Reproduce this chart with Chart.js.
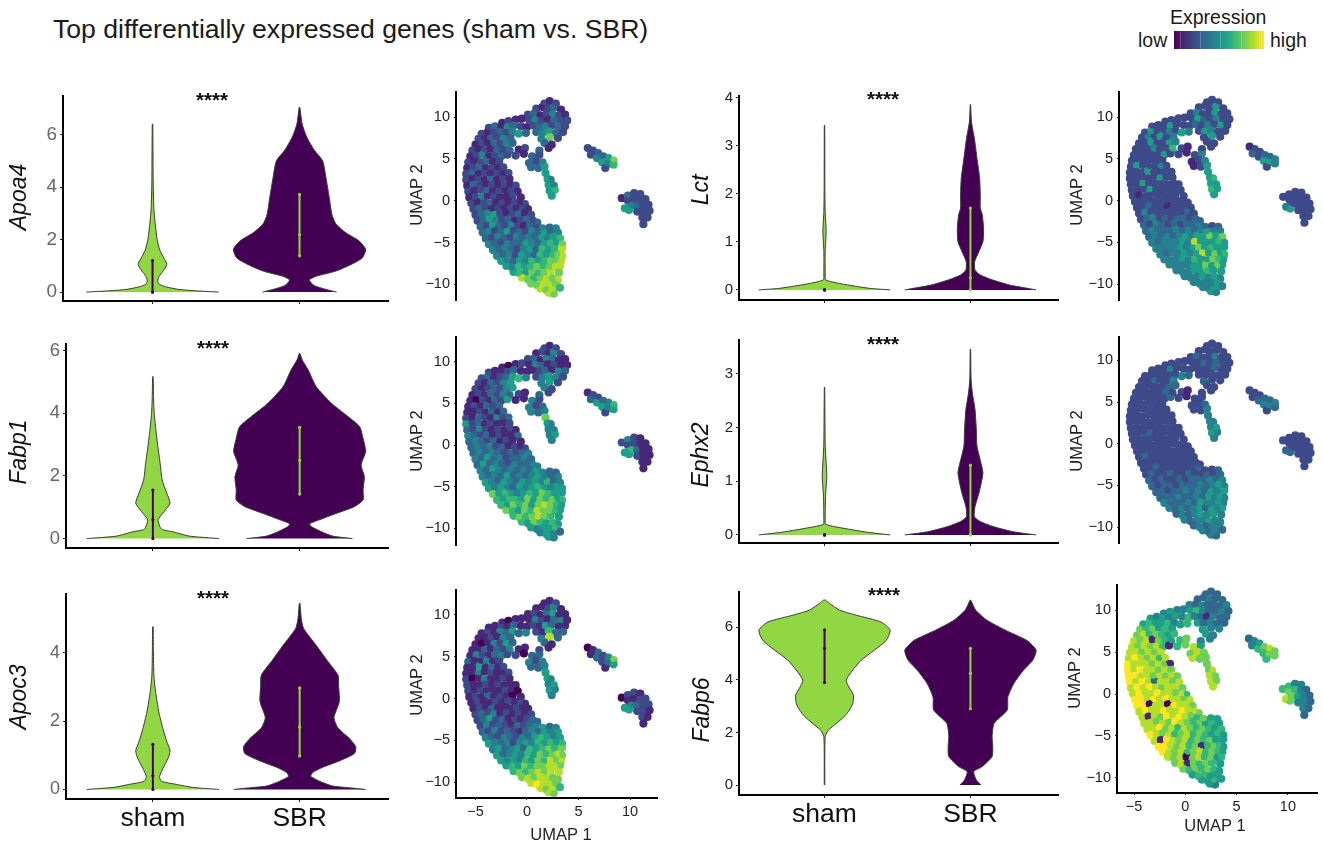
<!DOCTYPE html>
<html>
<head>
<meta charset="utf-8">
<title>Top differentially expressed genes</title>
<script src="https://cdn.jsdelivr.net/npm/chart.js@4"></script>
<style>
  html, body { margin: 0; padding: 0; background: #fff; }
  #page { position: relative; width: 1323px; height: 845px; overflow: hidden; font-family: "Liberation Sans", Arial, sans-serif; color: #1a1a1a; }
  #page canvas { position: absolute; left: 0; top: 0; }
  .txt { position: absolute; white-space: nowrap; line-height: 1; }
  #bar { position: absolute; left: 1174px; top: 31px; width: 90px; height: 18px;
    background: linear-gradient(to right, #440154, #482878, #3e4a89, #31688e, #26828e, #1f9e89, #35b779, #6ece58, #b5de2b, #fde725); }
  #bar i { position: absolute; top: 0; width: 1px; height: 18px; background: rgba(255,255,255,0.22); }
</style>
</head>
<body>
<div id="page">
  <div class="txt" style="left:53px;top:16px;font-size:26.6px">Top differentially expressed genes (sham vs. SBR)</div>
  <div class="txt" style="left:1170px;top:8px;font-size:19.5px">Expression</div>
  <div class="txt" style="left:1138px;top:31px;font-size:19.5px">low</div>
  <div class="txt" style="left:1270px;top:31px;font-size:19.5px">high</div>
  <div id="bar"><i style="left:6px"></i><i style="left:26px"></i><i style="left:46px"></i><i style="left:67px"></i><i style="left:87px"></i></div>
</div>
<script>
// ---- violin data: expression level, relative width at that level ----
const groupLabels = ['sham', 'SBR'];

const apoa4ShamLevel = [0, 0.04, 0.1, 0.2, 0.3, 0.42, 0.6, 0.8, 1.0, 1.1, 1.3, 1.6, 2.0, 2.5, 3.2, 4.2, 6.4];
const apoa4ShamWidth = [1, 0.7, 0.4, 0.2, 0.1, 0.08, 0.1, 0.16, 0.21, 0.215, 0.17, 0.11, 0.07, 0.045, 0.02, 0.01, 0.004];
const apoa4SbrLevel = [0, 0.1, 0.25, 0.46, 0.6, 0.8, 1.05, 1.3, 1.63, 1.95, 2.26, 2.6, 2.96, 3.6, 4.36, 5.0, 5.4, 5.9, 6.4, 7.04];
const apoa4SbrWidth = [0.56, 0.4, 0.22, 0.15, 0.25, 0.55, 0.78, 0.95, 1, 0.9, 0.7, 0.55, 0.49, 0.45, 0.4, 0.35, 0.225, 0.11, 0.04, 0.005];

const fabp1ShamLevel = [0, 0.08, 0.22, 0.3, 0.6, 0.86, 1.13, 1.45, 1.87, 2.4, 2.94, 3.47, 4.0, 4.5, 5.17];
const fabp1ShamWidth = [1, 0.55, 0.3, 0.13, 0.08, 0.17, 0.26, 0.21, 0.14, 0.11, 0.075, 0.045, 0.02, 0.01, 0.004];
const fabp1SbrLevel = [0, 0.08, 0.2, 0.38, 0.47, 0.6, 0.8, 1.02, 1.23, 1.55, 1.98, 2.35, 2.78, 3.2, 3.57, 3.9, 4.32, 4.85, 5.38, 5.7, 5.91];
const fabp1SbrWidth = [0.8, 0.5, 0.35, 0.18, 0.15, 0.3, 0.55, 0.83, 0.96, 0.96, 0.98, 0.93, 1, 0.96, 0.91, 0.73, 0.48, 0.25, 0.13, 0.04, 0.005];

const apoc3ShamLevel = [0, 0.06, 0.15, 0.24, 0.37, 0.61, 0.91, 1.13, 1.4, 1.79, 2.27, 2.86, 3.35, 4.03, 4.76];
const apoc3ShamWidth = [1, 0.6, 0.35, 0.13, 0.1, 0.15, 0.23, 0.26, 0.21, 0.15, 0.09, 0.04, 0.015, 0.008, 0.004];
const apoc3SbrLevel = [0, 0.05, 0.1, 0.2, 0.38, 0.5, 0.65, 0.85, 1.05, 1.25, 1.5, 1.8, 2.1, 2.57, 3.05, 3.35, 3.74, 4.22, 4.71, 5.0, 5.45];
const apoc3SbrWidth = [1, 0.75, 0.5, 0.35, 0.17, 0.2, 0.35, 0.62, 0.83, 0.85, 0.75, 0.58, 0.52, 0.6, 0.59, 0.58, 0.43, 0.25, 0.06, 0.025, 0.005];

const lctShamLevel = [0, 0.03, 0.07, 0.14, 0.21, 0.31, 0.8, 1.2, 1.63, 2.18, 3.42];
const lctShamWidth = [1, 0.7, 0.5, 0.2, 0.015, 0.01, 0.01, 0.025, 0.01, 0.005, 0.003];
const lctSbrLevel = [0, 0.05, 0.1, 0.21, 0.31, 0.41, 0.59, 0.8, 1.0, 1.28, 1.56, 1.7, 1.97, 2.32, 2.73, 3.15, 3.5, 3.85];
const lctSbrWidth = [1, 0.8, 0.6, 0.33, 0.15, 0.07, 0.065, 0.13, 0.19, 0.2, 0.18, 0.15, 0.15, 0.14, 0.1, 0.06, 0.015, 0.003];

const ephx2ShamLevel = [0, 0.05, 0.09, 0.155, 0.2, 0.28, 0.71, 1.09, 1.34, 1.71, 2.75];
const ephx2ShamWidth = [1, 0.65, 0.45, 0.15, 0.015, 0.01, 0.015, 0.035, 0.025, 0.01, 0.003];
const ephx2SbrLevel = [0, 0.06, 0.155, 0.25, 0.34, 0.53, 0.78, 1.15, 1.34, 1.65, 1.96, 2.33, 2.64, 2.89, 3.46];
const ephx2SbrWidth = [1, 0.65, 0.35, 0.15, 0.06, 0.07, 0.13, 0.19, 0.16, 0.1, 0.09, 0.07, 0.03, 0.01, 0.003];

const fabp6ShamLevel = [0, 1.84, 2.09, 2.34, 2.6, 2.85, 3.1, 3.42, 3.73, 3.99, 4.37, 4.75, 5.13, 5.5, 5.89, 6.2, 6.46, 6.65, 6.9, 7.03];
const fabp6ShamWidth = [0.004, 0.01, 0.06, 0.18, 0.3, 0.38, 0.43, 0.44, 0.37, 0.33, 0.43, 0.56, 0.76, 0.94, 1, 0.86, 0.48, 0.23, 0.08, 0.015];
const fabp6SbrLevel = [0, 0.19, 0.51, 0.7, 1.08, 1.46, 1.84, 2.34, 2.85, 3.35, 3.86, 4.37, 4.75, 5.13, 5.5, 5.89, 6.27, 6.65, 7.03];
const fabp6SbrWidth = [0.16, 0.09, 0.05, 0.18, 0.33, 0.34, 0.33, 0.36, 0.56, 0.57, 0.66, 0.81, 0.95, 1, 0.86, 0.53, 0.25, 0.08, 0.005];

// quartile bars: q1, median, q3
const apoa4ShamQ = [0, 0, 1.2];      const apoa4SbrQ = [1.38, 2.18, 3.72];
const fabp1ShamQ = [0, 0.6, 1.55];   const fabp1SbrQ = [1.42, 2.5, 3.55];
const apoc3ShamQ = [0, 0.4, 1.32];   const apoc3SbrQ = [0.98, 1.83, 2.97];
const lctShamQ = [0, 0, 0];          const lctSbrQ = [0, 0.25, 1.7];
const ephx2ShamQ = [0, 0, 0];        const ephx2SbrQ = [0, 0, 1.3];
const fabp6ShamQ = [3.9, 5.2, 5.9];  const fabp6SbrQ = [2.9, 4.25, 5.2];

const apoa4Ticks = [0, 2, 4, 6];
const fabp1Ticks = [0, 2, 4, 6];
const apoc3Ticks = [0, 2, 4];
const lctTicks = [0, 1, 2, 3, 4];
const ephx2Ticks = [0, 1, 2, 3];
const fabp6Ticks = [0, 2, 4, 6];
const umapTicksX = [-5, 0, 5, 10];
const umapTicksY = [-10, -5, 0, 5, 10];

// ---- UMAP cells, one line per band of the embedding ----
const umapX = [
  [1.7,2.2,2.8],
  [0.9,1.5,2.0,2.6,3.3],
  [0.1,0.7,1.3,1.9,2.5,3.1,3.7],
  [-2.4,-1.8,-1.1,-0.5,0.2,0.8,1.4,2.0,2.6,3.3,3.9],
  [-3.7,-3.1,-2.5,-1.9,-1.3,-0.6,0.0,0.6,1.2,1.8,2.4,3.1,3.7],
  [-4.4,-3.8,-3.2,-2.6,-2.0,-1.4,-0.8,-0.1,0.9,1.5,2.1,2.8,3.5],
  [-4.7,-4.1,-3.5,-2.9,-2.3,-1.6,1.4,2.2,3.0],
  [-5.0,-4.4,-3.8,-3.2,-2.6,-2.0,-1.4,1.7,2.4],
  [-5.3,-4.7,-4.1,-3.5,-2.9,-2.3,-1.7,-0.8,-0.2,1.2,2.1],
  [-5.5,-4.9,-4.3,-3.7,-3.1,-2.5,-1.9,-1.1,-0.3,0.5,1.2],
  [-5.7,-5.1,-4.5,-3.9,-3.3,-2.7,0.2,0.9,1.5],
  [-5.8,-5.2,-4.6,-4.0,-3.4,-2.8,-2.3,0.4,1.1,1.7],
  [-5.9,-5.3,-4.7,-4.1,-3.5,-2.9,-2.3,-1.8,1.8],
  [-5.9,-5.3,-4.7,-4.1,-3.5,-2.9,-2.3,-1.7,2.0,2.3],
  [-5.8,-5.2,-4.6,-4.0,-3.4,-2.8,-2.2,-1.6,-1.1,2.1,2.6],
  [-5.7,-5.1,-4.5,-3.9,-3.3,-2.7,-2.1,-1.5,-0.9,2.2,2.7],
  [-5.6,-5.0,-4.4,-3.8,-3.2,-2.6,-2.0,-1.4,-0.6,2.4],
  [-5.4,-4.8,-4.2,-3.6,-3.0,-2.4,-1.8,-1.2,-0.6,-0.2],
  [-5.2,-4.6,-4.0,-3.4,-2.8,-2.2,-1.6,-1.0,-0.4,0.1],
  [-5.0,-4.4,-3.8,-3.2,-2.6,-2.0,-1.4,-0.8,-0.2,0.4],
  [-4.8,-4.2,-3.6,-3.0,-2.4,-1.8,-1.2,-0.6,0.0,0.6,1.0],
  [-4.5,-3.9,-3.3,-2.7,-2.1,-1.5,-0.9,-0.3,0.3,0.9,1.5,2.2,2.8],
  [-4.3,-3.7,-3.1,-2.5,-1.9,-1.3,-0.7,-0.1,0.5,1.1,1.7,2.3,3.0],
  [-4.0,-3.4,-2.8,-2.2,-1.6,-1.0,-0.4,0.2,0.8,1.4,2.0,2.6,3.2],
  [-3.7,-3.1,-2.5,-1.9,-1.3,-0.7,-0.1,0.5,1.1,1.7,2.3,2.9,3.4],
  [-3.3,-2.7,-2.1,-1.5,-0.9,-0.3,0.3,0.9,1.5,2.1,2.7,3.4],
  [-2.9,-2.3,-1.7,-1.1,-0.5,0.1,0.7,1.3,1.9,2.5,3.0,3.4],
  [-2.5,-1.9,-1.3,-0.7,-0.1,0.5,1.1,1.7,2.3,2.9,3.3],
  [-2.0,-1.4,-0.8,-0.2,0.4,1.0,1.6,2.2,2.8,3.2],
  [-1.3,-0.7,-0.1,0.5,1.1,1.7,2.3,3.1],
  [-0.5,0.1,0.7,1.3,1.9,2.5,3.0],
  [0.4,1.0,1.6,2.2,2.8],
  [1.3,1.9,2.5,3.2],
  [2.1,2.6],
  [5.9,6.4,6.9,6.2,6.8,7.4,7.9,8.4,7.3,7.8,8.4,7.6],
  [9.2,9.8,10.4,11.0,9.8,10.4,11.0,11.5,9.5,10.1,10.7,11.2,11.8,9.9,10.7,11.3,11.9,11.2,11.7,11.3]
];
const umapY = [
  [11.6,11.9,11.6],
  [11.0,11.2,11.0,11.1,10.9],
  [10.3,10.4,10.2,10.4,10.3,10.2,10.3],
  [9.3,9.5,9.7,9.8,9.7,9.6,9.5,9.7,9.6,9.5,9.6],
  [8.7,8.9,8.9,8.8,9.0,8.9,8.8,9.0,8.8,8.9,9.0,8.8,8.9],
  [8.0,8.2,8.1,8.2,8.1,8.2,8.0,8.1,8.2,8.1,8.3,8.1,8.2],
  [7.4,7.5,7.4,7.6,7.4,7.5,7.4,7.6,7.5],
  [6.7,6.8,6.9,6.7,6.8,6.7,6.9,6.9,6.7],
  [6.0,6.1,6.0,6.2,6.0,6.1,6.0,6.1,6.3,6.0,6.3],
  [5.3,5.4,5.5,5.3,5.4,5.3,5.5,5.4,5.6,5.3,5.5],
  [4.6,4.7,4.6,4.8,4.6,4.7,4.5,4.7,4.6],
  [3.9,4.0,4.1,3.9,4.0,3.9,4.0,4.0,3.9,4.1],
  [3.2,3.3,3.2,3.4,3.2,3.3,3.2,3.3,3.3],
  [2.5,2.6,2.7,2.5,2.6,2.5,2.7,2.6,2.6,2.5],
  [1.8,1.9,1.8,2.0,1.8,1.9,1.8,1.9,1.8,1.9,1.8],
  [1.1,1.2,1.3,1.1,1.2,1.1,1.3,1.2,1.1,1.2,1.3],
  [0.4,0.5,0.4,0.6,0.5,0.4,0.5,0.6,0.4,0.6],
  [-0.3,-0.2,-0.1,-0.3,-0.2,-0.3,-0.1,-0.2,-0.3,-0.4],
  [-1.0,-0.9,-0.8,-1.0,-0.9,-0.8,-1.0,-0.9,-0.8,-1.0],
  [-1.7,-1.6,-1.5,-1.7,-1.6,-1.5,-1.7,-1.6,-1.5,-1.7],
  [-2.4,-2.3,-2.2,-2.4,-2.3,-2.2,-2.4,-2.3,-2.2,-2.4,-2.6],
  [-3.1,-3.0,-2.9,-3.1,-3.0,-2.9,-3.1,-3.0,-2.9,-3.1,-3.3,-3.2,-3.3],
  [-3.8,-3.7,-3.6,-3.8,-3.7,-3.6,-3.8,-3.7,-3.6,-3.8,-3.9,-3.7,-3.8],
  [-4.5,-4.4,-4.3,-4.5,-4.4,-4.3,-4.5,-4.4,-4.3,-4.5,-4.4,-4.3,-4.5],
  [-5.2,-5.1,-5.0,-5.2,-5.1,-5.0,-5.2,-5.1,-5.0,-5.2,-5.1,-5.0,-5.2],
  [-5.9,-5.8,-5.7,-5.9,-5.8,-5.7,-5.9,-5.8,-5.7,-5.9,-5.8,-5.7],
  [-6.6,-6.5,-6.4,-6.6,-6.5,-6.4,-6.6,-6.5,-6.4,-6.6,-6.5,-6.6],
  [-7.2,-7.3,-7.2,-7.1,-7.3,-7.2,-7.1,-7.3,-7.2,-7.1,-7.2],
  [-7.8,-8.0,-7.9,-7.8,-8.0,-7.9,-7.8,-8.0,-7.9,-7.8],
  [-8.5,-8.7,-8.6,-8.5,-8.7,-8.6,-8.5,-8.6],
  [-9.2,-9.4,-9.3,-9.2,-9.4,-9.3,-9.5],
  [-9.9,-10.1,-10.0,-10.1,-9.9],
  [-10.5,-10.7,-10.7,-10.4],
  [-11.0,-11.1],
  [6.3,6.0,5.7,5.5,5.1,5.3,5.1,4.8,4.6,4.4,4.3,3.9],
  [0.3,0.6,0.9,0.8,0.0,0.2,0.1,0.2,-0.9,-0.6,-0.6,-0.5,-0.5,-1.1,-1.3,-1.2,-1.2,-2.0,-2.0,-2.8]
];

// expression of each cell on a 0-9 colour scale, same shape as umapX / umapY
const exprApoa4 = [
  [2,1,2],[2,1,2,3,1],[2,3,1,2,4,2,1],[1,2,1,1,2,4,2,1,3,2,2],[2,3,1,4,3,2,1,2,3,4,2,3,2],
  [2,1,2,3,2,4,5,3,3,4,5,3,2],[2,1,3,2,4,3,4,7,2],[1,2,1,3,2,4,3,3,1],[2,1,2,1,3,2,3,1,2,3,1],
  [1,2,4,1,2,3,2,2,1,3,2],[2,1,2,3,1,2,3,2,4],[1,2,3,1,2,1,2,3,3,5],[2,3,1,2,1,2,1,2,5],
  [2,1,2,1,3,1,2,1,5,4],[1,3,2,1,2,1,2,1,2,5,4],[2,1,2,3,1,2,1,2,1,5,6],[1,2,4,1,2,1,1,2,1,5],
  [2,1,2,3,1,2,1,2,1,2],[2,3,2,1,2,1,2,1,2,1],[2,3,4,5,2,1,2,3,1,2],[2,3,5,4,2,3,1,2,3,2,3],
  [3,2,5,3,2,4,2,1,3,2,4,3,4],[3,4,2,3,5,2,3,2,4,3,5,3,4],[3,2,4,3,2,4,3,4,3,5,4,5,6],
  [4,3,2,4,3,3,5,4,3,5,6,5,7],[4,3,4,3,2,4,5,3,6,5,6,8],[4,3,4,2,5,4,3,6,5,6,7,8],
  [5,4,3,5,4,6,5,6,7,7,8],[5,4,6,5,6,7,6,7,8,8],[5,6,5,7,6,7,8,7],[8,7,6,7,8,7,8],
  [7,7,8,8,7],[8,7,8,6],[8,7],
  [2,2,3,2,4,3,5,7,5,4,6,2],[1,3,2,2,2,2,2,2,5,4,3,2,2,5,2,2,2,2,2,2]
];
const exprFabp1 = [
  [2,1,2],[1,2,1,4,2],[2,3,1,4,3,1,1],[1,0,1,2,1,4,3,1,2,1,1],[2,1,1,2,3,1,1,1,2,3,1,4,3],
  [2,3,1,2,3,5,6,4,2,4,5,4,2],[2,1,3,2,4,5,4,5,2],[2,1,2,3,2,4,5,4,2],[1,2,1,3,2,4,3,2,1,3,2],
  [1,0,2,1,3,2,5,1,1,4,2],[1,2,1,3,2,3,4,2,3],[1,1,2,1,3,1,3,4,3,4],[2,1,3,2,1,4,2,3,7],
  [5,2,3,1,2,1,1,2,5,4],[3,2,4,2,1,2,1,2,1,4,4],[4,3,2,3,1,2,1,1,3,4,5],[3,4,3,2,3,1,2,1,1,4],
  [3,4,3,4,2,3,1,2,1,2],[3,4,3,4,3,2,3,2,3,4],[4,3,5,3,4,2,3,3,4,3],[3,5,3,4,3,2,4,3,3,4,4],
  [4,3,5,4,3,4,3,4,3,5,4,3,3],[4,3,4,3,5,3,4,3,4,5,4,3,4],[5,4,3,5,4,3,5,4,5,4,6,3,4],
  [5,4,5,4,3,5,4,5,6,5,4,5,5],[7,5,6,5,4,5,6,5,7,6,5,5],[6,5,6,6,5,7,5,7,6,7,5,6],
  [6,5,7,6,7,5,7,8,7,6,5],[7,6,5,7,6,8,7,7,6,5],[6,7,6,7,8,7,6,5],[6,5,7,6,5,6,5],
  [5,4,5,5,6],[4,5,4,3],[5,4],
  [1,2,2,3,5,3,4,6,5,4,5,2],[2,4,2,1,2,2,1,1,5,6,3,1,1,5,2,1,1,1,1,1]
];
const exprApoc3 = [
  [1,1,2],[1,1,2,4,1],[1,2,1,3,5,1,1],[1,0,1,1,1,4,2,1,3,4,1],[1,1,2,1,3,1,1,2,1,5,3,1,1],
  [1,2,1,4,3,5,3,4,2,1,6,3,3],[1,1,2,1,4,3,4,8,3],[1,0,1,4,2,5,3,3,1],[1,1,3,1,3,2,4,1,1,2,1],
  [1,4,2,1,3,4,2,2,0,3,3],[3,1,1,4,1,2,4,2,4],[1,1,5,1,3,1,2,3,3,4],[1,1,4,1,2,1,1,2,5],
  [2,0,1,4,1,1,2,1,5,4],[2,1,1,2,1,2,1,1,1,4,5],[2,1,2,1,1,1,2,1,0,5,4],[1,2,1,3,1,2,1,0,1,4],
  [1,2,1,1,2,1,2,1,2,1],[1,2,1,3,1,1,1,2,1,1],[2,3,2,4,1,2,1,2,1,2],[2,3,5,2,3,1,2,1,2,3,3],
  [2,4,2,3,2,1,3,2,3,4,5,3,4],[3,2,4,2,3,2,1,3,4,3,5,4,5],[4,3,2,4,3,2,4,3,5,6,5,4,5],
  [5,4,3,4,2,4,5,4,6,5,6,5,6],[4,5,3,4,5,3,6,5,6,7,6,7],[5,3,4,5,4,6,5,7,6,7,8,7],
  [5,4,5,4,6,5,7,6,8,7,8],[5,6,5,7,6,7,7,8,8,7],[6,7,6,7,8,7,8,8],[7,8,7,8,8,7,7],
  [8,9,8,8,7],[8,7,8,6],[8,7],
  [0,1,3,1,3,2,4,7,2,3,5,1],[0,2,2,1,1,1,2,2,5,4,3,2,2,5,2,2,1,2,1,1]
];
const exprLct = [
  [2,2,2],[2,2,2,5,2],[2,4,2,2,5,2,2],[2,2,2,2,2,5,3,2,4,2,2],[2,2,2,5,2,2,2,3,2,4,2,5,2],
  [2,5,2,2,4,2,5,4,2,5,4,2,2],[2,4,2,5,2,4,2,5,2],[2,2,5,2,2,5,4,2,2],[2,2,2,4,2,2,6,2,1,2,2],
  [2,2,2,2,2,5,2,2,1,2,4],[2,2,2,2,2,2,1,2,4],[2,5,2,2,2,4,2,1,2,5],[2,2,2,5,2,2,2,2,5],
  [2,2,2,2,2,5,2,2,5,6],[2,2,5,2,2,2,2,2,2,5,5],[2,2,2,5,2,2,2,2,2,6,5],[2,1,2,2,2,2,2,2,2,5],
  [2,2,2,2,2,2,2,2,2,2],[2,2,3,2,2,1,2,2,2,2],[2,4,2,2,2,2,2,2,3,2],[2,3,4,2,3,2,3,3,2,3,3],
  [3,2,4,3,2,3,2,3,3,4,3,2,3],[3,4,3,3,3,4,3,4,3,4,5,4,4],[3,4,3,4,3,4,5,4,5,5,7,5,7],
  [4,3,4,4,4,5,4,8,5,5,5,6,5],[4,4,4,4,5,4,5,7,5,6,5,5],[4,3,4,4,5,4,5,8,5,7,5,6],
  [4,4,4,5,4,6,5,5,7,6,5],[4,4,4,4,5,5,7,5,7,5],[4,4,4,5,5,6,5,5],[4,4,4,5,4,5,4],
  [4,4,4,4,5],[4,4,5,4],[5,4],
  [1,2,2,3,2,3,3,4,5,5,4,2],[2,2,2,2,2,2,2,2,4,2,2,2,2,5,2,2,2,2,2,2]
];
const exprEphx2 = [
  [2,2,2],[2,2,2,2,2],[2,3,2,2,4,2,2],[2,2,2,2,2,2,3,2,3,2,2],[2,2,2,4,2,2,2,2,2,2,3,2,2],
  [2,2,2,2,2,2,4,3,2,2,2,2,2],[2,2,3,2,2,4,3,2,2],[2,2,2,2,2,3,3,2,2],[2,2,2,2,2,3,2,2,1,2,2],
  [2,2,2,2,2,2,3,2,1,2,2],[2,2,2,2,2,2,2,2,3],[2,2,2,2,2,2,2,2,2,4],[2,2,2,2,2,2,2,2,4],
  [2,2,2,2,2,2,2,2,4,4],[2,2,2,2,2,2,2,2,2,4,5],[2,2,2,3,2,2,2,2,2,5,4],[2,2,2,2,2,2,2,2,2,4],
  [2,2,2,2,2,2,2,2,2,2],[2,2,2,2,2,2,2,2,2,2],[2,3,2,2,2,2,2,2,2,2],[2,2,2,2,2,2,2,2,2,2,2],
  [2,2,3,2,2,2,2,2,2,3,2,2,3],[2,3,2,2,3,2,2,3,2,2,3,2,3],[3,2,3,2,2,3,2,3,3,3,4,3,4],
  [3,2,3,3,2,3,3,3,4,3,4,5,4],[3,3,2,3,3,4,3,4,3,5,4,5],[3,3,3,4,3,3,4,3,5,4,5,4],
  [4,3,3,3,4,3,5,4,4,5,4],[4,3,4,3,4,5,3,5,4,5],[3,4,3,4,5,4,5,4],[4,3,4,4,5,4,4],
  [3,4,3,4,4],[4,3,4,3],[4,3],
  [2,2,2,2,3,3,3,4,4,4,3,2],[2,2,2,2,2,2,2,2,3,2,2,2,2,3,2,2,2,2,2,2]
];
const exprFabp6 = [
  [3,3,3],[3,3,4,3,3],[4,3,4,3,3,3,4],[4,5,4,4,5,6,4,3,3,4,3],[5,4,5,4,5,4,6,4,3,1,4,3,3],
  [5,6,5,5,6,4,5,6,5,3,4,3,3],[7,6,7,5,6,5,5,4,4],[7,8,6,7,6,5,6,5,4],[8,7,8,1,7,6,5,6,7,4,4],
  [8,7,8,7,8,6,1,6,7,8,5],[8,8,7,8,7,8,7,8,7],[8,9,8,7,8,6,8,8,7,7],[9,8,8,8,7,8,7,1,7],
  [9,8,9,8,8,7,8,7,7,8],[9,9,8,8,7,8,7,8,7,8,7],[9,8,9,8,3,8,8,7,8,8,7],[8,9,8,9,8,7,8,8,7,8],
  [8,9,8,8,9,8,8,7,8,6],[9,9,8,9,8,9,8,8,7,8],[9,9,0,8,8,0,9,8,8,7],[8,9,8,8,9,8,8,9,8,8,7],
  [8,1,8,7,9,8,9,8,7,6,7,5,5],[8,8,7,8,7,9,8,7,6,7,5,6,5],[8,8,9,7,8,6,8,7,6,7,6,5,6],
  [9,8,7,8,6,7,8,6,7,6,5,6,5],[8,1,9,8,7,8,6,7,6,7,5,5],[9,9,8,7,8,6,7,1,6,7,6,5],
  [9,8,7,8,6,7,8,6,7,6,5],[8,7,8,0,7,8,6,7,5,6],[7,8,1,7,6,7,6,5],[7,6,7,6,7,6,5],
  [5,6,6,5,5],[5,5,6,5],[5,4],
  [3,4,5,4,6,7,8,7,6,7,7,6],[6,6,4,4,7,6,4,3,8,7,5,4,3,7,4,4,3,4,3,3]
];

// ---- styles ----
const FONT = '"Liberation Sans", Arial, sans-serif';
const GREEN = '#90d743';
const PURPLE = '#440154';
const VIRIDIS = ['#440154', '#482878', '#3e4a89', '#31688e', '#26828e', '#1f9e89', '#35b779', '#6ece58', '#b5de2b', '#fde725'];
const PAGE_W = 1323;
const PAGE_H = 845;
// room kept for tick labels; the library clips labels to the scale box
const GUTTER_Y = 45;
const GUTTER_X = 42;

const page = document.getElementById('page');

// draws free text (gene names, axis titles, stars) at page positions
const panelText = {
  id: 'panelText',
  afterDraw(chart, args, opts) {
    const ctx = chart.ctx;
    (opts.items || []).forEach(t => {
      ctx.save();
      ctx.translate(t.x, t.y);
      if (t.rotate) ctx.rotate(t.rotate);
      ctx.font = t.font;
      ctx.fillStyle = t.color || '#111';
      ctx.textAlign = 'center';
      ctx.textBaseline = 'middle';
      ctx.fillText(t.text, 0, 0);
      ctx.restore();
    });
  }
};

function newCanvas() {
  const c = document.createElement('canvas');
  c.width = PAGE_W;
  c.height = PAGE_H;
  c.style.width = PAGE_W + 'px';
  c.style.height = PAGE_H + 'px';
  page.appendChild(c);
  return c;
}

function plotPadding(r) {
  return {
    left: r.x0 - GUTTER_Y,
    top: r.y0,
    right: PAGE_W - r.x1,
    bottom: PAGE_H - r.y1 - GUTTER_X
  };
}

function fitGutter(scale) {
  if (scale.isHorizontal()) scale.height = GUTTER_X; else scale.width = GUTTER_Y;
}

function axisBase(tickValues, label, tickFont, tickColor, showLabels, pad, tickLen) {
  return {
    type: 'linear',
    afterFit: fitGutter,
    afterBuildTicks(scale) { scale.ticks = tickValues.map(v => ({ value: v })); },
    border: { display: true, color: '#000', width: 2 },
    grid: { drawOnChartArea: false, drawTicks: true, tickLength: tickLen, tickColor: '#222', tickWidth: 1 },
    ticks: {
      autoSkip: false, maxRotation: 0, minRotation: 0, padding: pad,
      font: { size: tickFont, family: FONT }, color: tickColor,
      display: showLabels,
      callback: label
    }
  };
}

function violinShape(center, level, width) {
  const right = level.map((l, i) => ({ x: center + width[i] * 0.45, y: l }));
  const left = level.map((l, i) => ({ x: center - width[i] * 0.45, y: l })).reverse();
  return right.concat(left);
}

function violinSet(center, level, width, fill) {
  return {
    data: violinShape(center, level, width),
    showLine: true, fill: 'shape', backgroundColor: fill,
    borderColor: '#3a3a3a', borderWidth: 1, pointRadius: 0, tension: 0.2
  };
}

function quartileSet(center, q, color) {
  return {
    data: q.map(v => ({ x: center, y: v })),
    showLine: true, fill: false, borderColor: color, borderWidth: 2,
    pointRadius: 1.6, pointBackgroundColor: color, pointBorderWidth: 0
  };
}

function makeViolin(p) {
  new Chart(newCanvas(), {
    type: 'scatter',
    data: {
      datasets: [
        quartileSet(1, p.shamQ, PURPLE),
        quartileSet(2, p.sbrQ, GREEN),
        violinSet(1, p.shamLevel, p.shamWidth, GREEN),
        violinSet(2, p.sbrLevel, p.sbrWidth, PURPLE)
      ]
    },
    options: {
      responsive: false, animation: false, devicePixelRatio: 1,
      layout: { padding: plotPadding(p.rect) },
      scales: {
        x: Object.assign(axisBase([1, 2], v => groupLabels[v - 1], 26.5, '#111', p.showGroups, 1, 3), { min: p.xMin, max: p.xMax }),
        y: Object.assign(axisBase(p.ticks, v => String(v), p.tickSize, p.tickColor, true, 3, 3), { min: p.yMin, max: p.yMax })
      },
      plugins: {
        legend: { display: false }, tooltip: { enabled: false },
        panelText: { items: [
          { text: p.gene, x: p.geneX, y: p.geneY, rotate: -Math.PI / 2, font: 'italic 23px ' + FONT, color: '#111' },
          { text: '****', x: p.starX, y: p.starY, font: 'bold 20.5px ' + FONT, color: '#111' }
        ] }
      }
    },
    plugins: [panelText]
  });
}

function makeUmap(p) {
  const pts = [];
  const cols = [];
  umapX.forEach((row, r) => {
    row.forEach((x, i) => {
      pts.push({ x: x + p.xShift, y: umapY[r][i] + p.yShift });
      cols.push(VIRIDIS[p.expr[r][i]]);
    });
  });
  const items = [{ text: 'UMAP 2', x: p.titleX, y: p.titleY, rotate: -Math.PI / 2, font: '16.5px ' + FONT, color: '#222' }];
  if (p.showX) items.push({ text: 'UMAP 1', x: p.xTitleX, y: p.xTitleY, font: '16.5px ' + FONT, color: '#222' });
  const minus = v => String(v).replace('-', '\u2212');
  const xAxis = Object.assign(axisBase(umapTicksX, minus, 14.5, '#222', true, 3, 2), { min: p.xMin, max: p.xMax, display: p.showX });
  new Chart(newCanvas(), {
    type: 'scatter',
    data: {
      datasets: [
        // cells on top, the same cells wider underneath so the cloud reads as solid
        { data: pts, pointRadius: 2.4, pointBackgroundColor: cols, pointBorderWidth: 0 },
        { data: pts, pointRadius: 4.1, pointBackgroundColor: cols, pointBorderWidth: 0 }
      ]
    },
    options: {
      responsive: false, animation: false, devicePixelRatio: 1,
      layout: { padding: plotPadding(p.rect) },
      scales: {
        x: xAxis,
        y: Object.assign(axisBase(umapTicksY, minus, 14.5, '#222', true, 4, 2), { min: p.yMin, max: p.yMax })
      },
      plugins: { legend: { display: false }, tooltip: { enabled: false }, panelText: { items } }
    },
    plugins: [panelText]
  });
}

// ---- violin panels ----
const grey = '#666666';
const dark = '#222222';
makeViolin({ gene: 'Apoa4', rect: { x0: 63, y0: 96, x1: 388, y1: 301 }, xMin: 0.391, xMax: 2.602, yMin: -0.34, yMax: 7.47,
  ticks: apoa4Ticks, tickSize: 19, tickColor: grey, showGroups: false, geneX: 20, geneY: 197, starX: 212, starY: 101,
  shamLevel: apoa4ShamLevel, shamWidth: apoa4ShamWidth, sbrLevel: apoa4SbrLevel, sbrWidth: apoa4SbrWidth, shamQ: apoa4ShamQ, sbrQ: apoa4SbrQ });
makeViolin({ gene: 'Fabp1', rect: { x0: 66, y0: 344, x1: 388, y1: 548 }, xMin: 0.408, xMax: 2.602, yMin: -0.30, yMax: 6.21,
  ticks: fabp1Ticks, tickSize: 18.5, tickColor: grey, showGroups: false, geneX: 20, geneY: 452, starX: 213, starY: 349,
  shamLevel: fabp1ShamLevel, shamWidth: fabp1ShamWidth, sbrLevel: fabp1SbrLevel, sbrWidth: fabp1SbrWidth, shamQ: fabp1ShamQ, sbrQ: fabp1SbrQ });
makeViolin({ gene: 'Apoc3', rect: { x0: 66, y0: 594, x1: 388, y1: 799 }, xMin: 0.408, xMax: 2.602, yMin: -0.28, yMax: 5.72,
  ticks: apoc3Ticks, tickSize: 18, tickColor: grey, showGroups: true, geneX: 20, geneY: 697, starX: 213, starY: 599,
  shamLevel: apoc3ShamLevel, shamWidth: apoc3ShamWidth, sbrLevel: apoc3SbrLevel, sbrWidth: apoc3SbrWidth, shamQ: apoc3ShamQ, sbrQ: apoc3SbrQ });
makeViolin({ gene: 'Lct', rect: { x0: 739, y0: 96, x1: 1058, y1: 300 }, xMin: 0.414, xMax: 2.6, yMin: -0.21, yMax: 4.03,
  ticks: lctTicks, tickSize: 15, tickColor: dark, showGroups: false, geneX: 702, geneY: 190, starX: 883, starY: 100,
  shamLevel: lctShamLevel, shamWidth: lctShamWidth, sbrLevel: lctSbrLevel, sbrWidth: lctSbrWidth, shamQ: lctShamQ, sbrQ: lctSbrQ });
makeViolin({ gene: 'Ephx2', rect: { x0: 739, y0: 340, x1: 1058, y1: 543 }, xMin: 0.414, xMax: 2.6, yMin: -0.15, yMax: 3.63,
  ticks: ephx2Ticks, tickSize: 15, tickColor: dark, showGroups: false, geneX: 702, geneY: 455, starX: 883, starY: 345,
  shamLevel: ephx2ShamLevel, shamWidth: ephx2ShamWidth, sbrLevel: ephx2SbrLevel, sbrWidth: ephx2SbrWidth, shamQ: ephx2ShamQ, sbrQ: ephx2SbrQ });
makeViolin({ gene: 'Fabp6', rect: { x0: 739, y0: 592, x1: 1058, y1: 795 }, xMin: 0.414, xMax: 2.6, yMin: -0.38, yMax: 7.34,
  ticks: fabp6Ticks, tickSize: 15, tickColor: dark, showGroups: true, geneX: 703, geneY: 710, starX: 884, starY: 596,
  shamLevel: fabp6ShamLevel, shamWidth: fabp6ShamWidth, sbrLevel: fabp6SbrLevel, sbrWidth: fabp6SbrWidth, shamQ: fabp6ShamQ, sbrQ: fabp6SbrQ });

// ---- UMAP panels ----
const colA = { xMin: -6.89, xMax: 12.62, xShift: 0 };
const colB = { xMin: -6.67, xMax: 12.84, xShift: 0.3 };
makeUmap(Object.assign({}, colA, { expr: exprApoa4, rect: { x0: 456, y0: 92, x1: 657, y1: 300 }, yMin: -11.86, yMax: 12.99, yShift: 0, showX: false, titleX: 417, titleY: 195 }));
makeUmap(Object.assign({}, colA, { expr: exprFabp1, rect: { x0: 456, y0: 337, x1: 657, y1: 545 }, yMin: -12.0, yMax: 12.96, yShift: 0, showX: false, titleX: 417, titleY: 441 }));
makeUmap(Object.assign({}, colA, { expr: exprApoc3, rect: { x0: 456, y0: 590, x1: 657, y1: 798 }, yMin: -11.9, yMax: 12.99, yShift: -0.2, showX: true, titleX: 417, titleY: 685, xTitleX: 561, xTitleY: 835 }));
makeUmap(Object.assign({}, colB, { expr: exprLct, rect: { x0: 1119, y0: 92, x1: 1317, y1: 300 }, yMin: -11.9, yMax: 13.0, yShift: 0.15, showX: false, titleX: 1077, titleY: 195 }));
makeUmap(Object.assign({}, colB, { expr: exprEphx2, rect: { x0: 1119, y0: 337, x1: 1317, y1: 543 }, yMin: -11.9, yMax: 12.8, yShift: 0.1, showX: false, titleX: 1077, titleY: 441 }));
makeUmap(Object.assign({}, colB, { expr: exprFabp6, rect: { x0: 1117, y0: 585, x1: 1317, y1: 793 }, yMin: -11.8, yMax: 13.0, yShift: 0.3, showX: true, titleX: 1075, titleY: 678, xTitleX: 1215, xTitleY: 826 }));
</script>
</body>
</html>
